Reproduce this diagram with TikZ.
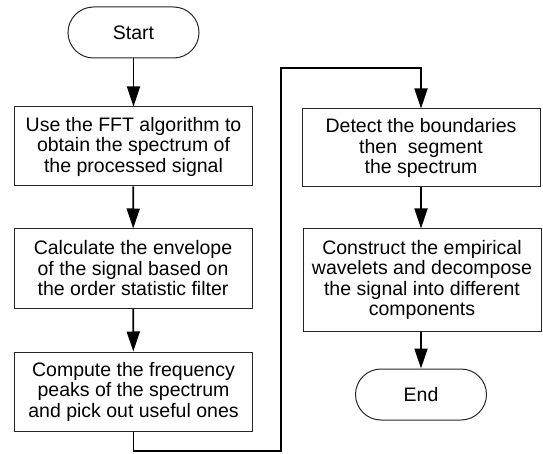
\documentclass[tikz,border=0pt]{standalone}
\usepackage{fontspec}
\setmainfont{Liberation Sans}
\usetikzlibrary{arrows.meta}
\begin{document}
\begin{tikzpicture}[x=1pt,y=-1pt,
  proc/.style={draw=black!85,line width=1pt,fill=white,minimum width=238pt,minimum height=79pt,inner sep=0pt,align=center,font=\fontsize{19.5}{20.5}\selectfont},
  term/.style={draw=black!85,line width=1pt,minimum width=131pt,minimum height=51pt,rounded corners=25.5pt,inner sep=0pt,font=\fontsize{19.5}{20.5}\selectfont},
  conn/.style={line width=1.8pt,-{Triangle[length=20pt,width=13pt]}}]
\useasboundingbox (0,0) rectangle (543,454);
\node[term] (start) at (133.5,32.5) {Start};
\node[proc] (b1) at (133.5,146.5) {Use the FFT algorithm to\\obtain the spectrum of\\the processed signal};
\node[proc] (b2) at (133,268.5) {Calculate the envelope\\of the signal based on\\the order statistic filter};
\node[proc] (b3) at (133.5,391.5) {Compute the frequency\\peaks of the spectrum\\and pick out useful ones};
\node[proc,minimum height=78pt] (b4) at (421,148) {Detect the boundaries\\then\ \ segment\\the spectrum};
\node[proc,minimum height=102pt] (b5) at (422,280) {Construct the empirical\\wavelets and decompose\\the signal into different\\components};
\node[term] (end) at (421,394.5) {End};
\coordinate (c1) at (b3.south |- 0,451);
\coordinate (c2) at (281,451);
\coordinate (c3) at (281,68);
\coordinate (c4) at (b4.north |- 0,68);
\draw[conn] (start) -- (b1);
\draw[conn] (b1) -- (b2);
\draw[conn] (b2) -- (b3);
\draw[conn,line join=miter] (b3.south) -- (c1) -- (c2) -- (c3) -- (c4) -- (b4.north);
\draw[conn] (b4) -- (b4.south |- b5.north);
\draw[conn] (b5.south -| end) -- (end);
\end{tikzpicture}
\end{document}
